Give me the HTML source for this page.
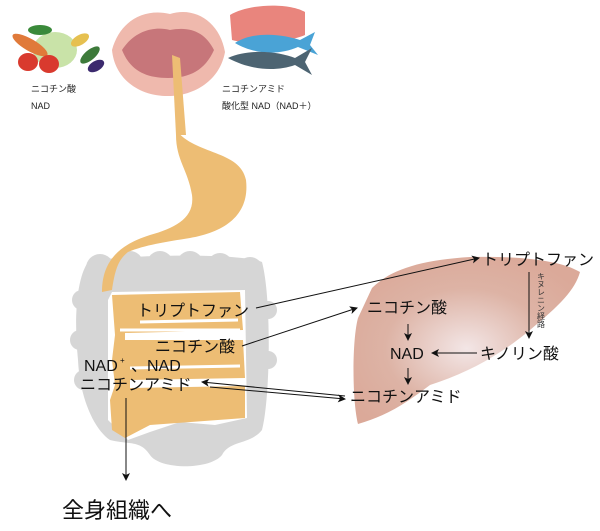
<!DOCTYPE html>
<html><head><meta charset="utf-8"><style>
body{margin:0;background:#fff;}
svg{display:block;font-family:"Liberation Sans","Noto Sans CJK JP",sans-serif;}
</style></head><body>
<svg width="600" height="531" viewBox="0 0 600 531" xmlns="http://www.w3.org/2000/svg">
<defs>
<radialGradient id="lv" cx="0.5" cy="0.55" r="0.6">
<stop offset="0" stop-color="#f3e6e6"/><stop offset="0.6" stop-color="#ddb3a5"/><stop offset="1" stop-color="#dba999"/>
</radialGradient>
<marker id="ah" markerWidth="8" markerHeight="8" refX="7" refY="4" orient="auto" markerUnits="userSpaceOnUse"><path d="M0,0 L8,4 L0,8 L2,4 z" fill="#111"/></marker>
</defs>
<!-- vegetables -->
<g>
<ellipse cx="55" cy="50" rx="22" ry="18" fill="#c9e3a8"/>
<ellipse cx="30" cy="45" rx="20" ry="6" fill="#e07a3a" transform="rotate(30 30 45)"/>
<ellipse cx="28" cy="62" rx="10" ry="9" fill="#d93a2e"/>
<ellipse cx="49" cy="64" rx="10" ry="9" fill="#d93a2e"/>
<ellipse cx="80" cy="40" rx="10" ry="5" fill="#e6c050" transform="rotate(-30 80 40)"/>
<ellipse cx="90" cy="55" rx="12" ry="5" fill="#3d7a3a" transform="rotate(-40 90 55)"/>
<ellipse cx="96" cy="66" rx="9" ry="5" fill="#3c2a6e" transform="rotate(-30 96 66)"/>
<ellipse cx="40" cy="30" rx="12" ry="5" fill="#3a8a3a"/>
</g>
<!-- mouth -->
<path d="M112,50 C120,20 145,8 170,14 C195,6 220,22 225,52 C220,80 195,96 168,96 C140,96 115,80 112,50 z" fill="#efb9ad"/>
<path d="M122,50 C135,30 155,26 170,30 C190,26 205,32 214,50 C205,70 190,78 168,78 C145,78 130,70 122,50 z" fill="#c7767a"/>
<!-- meat fish -->
<g>
<path d="M230,15 C250,3 290,3 305,12 L305,35 C290,42 250,45 232,40 z" fill="#e9857d"/>
<path d="M235,43 C255,30 285,35 300,40 L315,32 L310,45 L318,55 L298,47 C280,55 255,55 235,43z" fill="#4aa3d6"/>
<path d="M228,58 C250,48 280,52 295,58 L312,48 L305,62 L312,75 L295,65 C275,72 250,70 228,58z" fill="#4d6472"/>
</g>
<g font-size="9" fill="#222">
<text x="31" y="92">ニコチン酸</text>
<text x="31" y="109">NAD</text>
<text x="222" y="92">ニコチンアミド</text>
<text x="222" y="109">酸化型 NAD（NAD＋）</text>
</g>
<!-- colon -->
<g fill="#d6d6d6">
<path d="M88,262 C110,255 240,252 262,262 C272,300 270,400 262,430 C250,445 230,440 222,455 C210,470 160,470 150,455 C140,440 130,445 110,440 C95,430 80,400 78,360 C74,320 76,280 88,262 z"/>
<circle cx="100" cy="268" r="14"/><circle cx="130" cy="264" r="13"/><circle cx="160" cy="264" r="13"/><circle cx="190" cy="264" r="13"/><circle cx="220" cy="266" r="13"/><circle cx="250" cy="270" r="13"/>
<circle cx="82" cy="300" r="10"/><circle cx="80" cy="340" r="10"/><circle cx="84" cy="380" r="10"/><circle cx="268" cy="310" r="9"/><circle cx="268" cy="360" r="9"/>
</g>
<path d="M112,292 L245,290 L247,418 L215,425 L180,422 L150,432 L128,440 L108,420 L108,300 z" fill="#fff"/>
<!-- esophagus & stomach -->
<path d="M172,55 L180,58 L186,135 L176,135 z" fill="#edbd74"/>
<path d="M176,130 C195,155 240,150 246,180 C250,215 225,232 190,238 C165,242 145,245 128,252 C118,260 115,270 112,290 L102,292 C102,262 118,245 150,235 C175,228 195,218 192,195 C188,170 176,160 176,135 z" fill="#edbd74"/>
<!-- small intestine -->
<path d="M112,295 L240,292 L243,330 L125,333 L125,340 L243,340 L245,378 L130,380 L130,388 L245,386 L245,418 L150,425 L125,438 L112,430 L110,400 L115,385 L112,360 L115,335 z" fill="#edbd74"/>
<path d="M140,322 L238,320 M120,330 L240,330 M130,368 L240,366" stroke="#fff" stroke-width="3" fill="none"/>
<!-- liver -->
<path d="M372,288 C390,270 420,260 470,257 C520,256 560,260 580,272 C575,290 560,305 530,330 C500,355 470,372 430,385 C410,400 390,415 358,424 C352,400 352,340 358,318 z" fill="url(#lv)"/>
<g font-size="16" fill="#111">
<text x="137" y="316">トリプトファン</text>
<text x="155" y="352">ニコチン酸</text>
<text x="84" y="371">NAD</text><text x="120" y="363" font-size="8">+</text>
<text x="131" y="371">、NAD</text>
<text x="80" y="390">ニコチンアミド</text>
<text x="482" y="265">トリプトファン</text>
<text x="367" y="313">ニコチン酸</text>
<text x="390" y="359">NAD</text>
<text x="480" y="359">キノリン酸</text>
<text x="350" y="402">ニコチンアミド</text>
<text x="62" y="518" font-size="22">全身組織へ</text>
</g>
<text font-size="8" fill="#333" writing-mode="tb" x="541" y="272">キヌレニン経路</text>
<g stroke="#111" stroke-width="1" fill="none" marker-end="url(#ah)">
<line x1="256" y1="308" x2="479" y2="258"/>
<line x1="242" y1="346" x2="357" y2="308"/>
<line x1="408" y1="324" x2="408" y2="340"/>
<line x1="408" y1="368" x2="408" y2="384"/>
<line x1="529" y1="272" x2="529" y2="338"/>
<line x1="477" y1="353" x2="432" y2="353"/>
<line x1="345" y1="396" x2="202" y2="382"/>
<line x1="210" y1="387" x2="345" y2="399"/>
<line x1="126" y1="398" x2="126" y2="480"/>
</g>
</svg>
</body></html>
